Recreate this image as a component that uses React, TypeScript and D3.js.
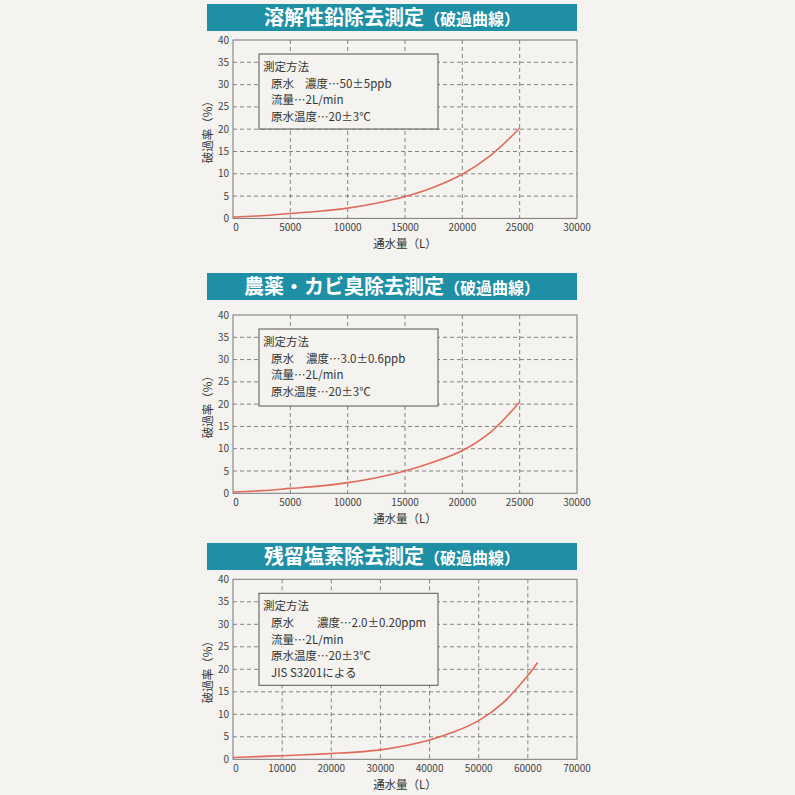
import React from "react";
import * as d3 from "d3";

const leadX = [0, 2500, 5000, 7500, 10000, 12500, 15000, 17500, 20000, 22500, 25000];
const leadY = [0.3, 0.6, 1.1, 1.6, 2.3, 3.4, 4.9, 7.0, 9.9, 14.2, 20.2];
const pestX = [0, 2500, 5000, 7500, 10000, 12500, 15000, 17500, 20000, 22500, 25000];
const pestY = [0.3, 0.6, 1.1, 1.6, 2.4, 3.5, 5.0, 7.0, 9.6, 13.8, 20.5];
const clX = [0, 5000, 10000, 15000, 20000, 25000, 30000, 35000, 40000, 45000, 50000, 55000, 60000, 62000];
const clY = [0.4, 0.6, 0.8, 1.0, 1.3, 1.6, 2.1, 3.0, 4.3, 6.1, 8.6, 12.6, 18.6, 21.5];

const yTicks = [0, 5, 10, 15, 20, 25, 30, 35, 40];
const xTicks1 = [0, 5000, 10000, 15000, 20000, 25000, 30000];
const xTicks3 = [0, 10000, 20000, 30000, 40000, 50000, 60000, 70000];

const titles = ["溶解性鉛除去測定", "農薬・カビ臭除去測定", "残留塩素除去測定"];
const subTitle = "（破過曲線）";
const legend1 = ["測定方法", "原水", "濃度…50±5ppb", "流量…2L/min", "原水温度…20±3℃"];
const legend2 = ["測定方法", "原水", "濃度…3.0±0.6ppb", "流量…2L/min", "原水温度…20±3℃"];
const legend3 = ["測定方法", "原水", "濃度…2.0±0.20ppm", "流量…2L/min", "原水温度…20±3℃", "JIS S3201による"];

const FONT = "'Noto Sans CJK JP', 'Noto Sans', sans-serif";
const TEAL = "#1f8fa6";
const BG = "#f4f3ef";
const GRID = "#666";
const CURVE = "#e06a5c";

type PanelProps = {
  title: string;
  titleTop: number;
  plotTop: number;
  plotH: number;
  xs: number[];
  ys: number[];
  xTicks: number[];
  legend: string[];
  legendH: number;
  concX: number;
};

function Panel({ title, titleTop, plotTop, plotH, xs, ys, xTicks, legend, legendH, concX }: PanelProps) {
  const left = 233;
  const right = 577;
  const bottom = plotTop + plotH;
  const x = d3.scaleLinear().domain([0, xTicks[xTicks.length - 1]]).range([left, right]);
  const y = d3.scaleLinear().domain([0, 40]).range([bottom, plotTop]);
  const pts: [number, number][] = xs.map((v, i) => [v, ys[i]]);
  const line = d3
    .line<[number, number]>()
    .x((d) => x(d[0]))
    .y((d) => y(d[1]))
    .curve(d3.curveCatmullRom.alpha(0.5));
  const lx = 259;
  const ly = plotTop + 14;
  const lw = 179;
  const lineH = 16.6;
  return (
    <g>
      <rect x={207} y={titleTop} width={370} height={27} fill={TEAL} />
      <text
        x={392}
        y={titleTop + 21}
        textAnchor="middle"
        fill="#fff"
        fontFamily={FONT}
        fontWeight="bold"
        fontSize={20}
      >
        {title}
        <tspan fontSize={16}>{subTitle}</tspan>
      </text>
      {yTicks.slice(1, -1).map((t) => (
        <line key={"gy" + t} x1={left} x2={right} y1={y(t)} y2={y(t)} stroke={GRID} strokeWidth={0.8} strokeDasharray="4,3" />
      ))}
      {xTicks.slice(1, -1).map((t) => (
        <line key={"gx" + t} x1={x(t)} x2={x(t)} y1={plotTop} y2={bottom} stroke={GRID} strokeWidth={0.8} strokeDasharray="4,3" />
      ))}
      <rect x={left} y={plotTop} width={right - left} height={plotH} fill="none" stroke="#777" strokeWidth={1} />
      <rect x={lx} y={ly} width={lw} height={legendH} fill={BG} stroke="#555" strokeWidth={1} />
      <g fontFamily={FONT} fontSize={11.5} fill="#333">
        <text x={lx + 4} y={ly + 17}>{legend[0]}</text>
        <text x={lx + 12} y={ly + 17 + lineH}>{legend[1]}</text>
        <text x={concX} y={ly + 17 + lineH}>{legend[2]}</text>
        {legend.slice(3).map((s, i) => (
          <text key={s} x={lx + 12} y={ly + 17 + lineH * (i + 2)}>{s}</text>
        ))}
      </g>
      <path d={line(pts) || ""} fill="none" stroke={CURVE} strokeWidth={1.6} />
      <g fontFamily={FONT} fontSize={10} fill="#444">
        {yTicks.map((t) => (
          <text key={"ty" + t} x={left - 4} y={y(t) + 3.5} textAnchor="end">{t}</text>
        ))}
        {xTicks.map((t) => (
          <text key={"tx" + t} x={x(t) + (t === 0 ? 3 : 0)} y={bottom + 13} textAnchor="middle">{t}</text>
        ))}
      </g>
      <text x={405} y={bottom + 30} textAnchor="middle" fontFamily={FONT} fontSize={11.5} fill="#333">通水量（L）</text>
      <text
        transform={`translate(212,${plotTop + plotH / 2}) rotate(-90)`}
        textAnchor="middle"
        fontFamily={FONT}
        fontSize={11.5}
        fill="#333"
      >
        破過率（%）
      </text>
    </g>
  );
}

export default function App() {
  return (
    <svg
      width={795}
      height={795}
      style={{ position: "absolute", left: 0, top: 0, background: BG }}
    >
      <rect x={0} y={0} width={795} height={795} fill={BG} />
      <Panel title={titles[0]} titleTop={4} plotTop={40} plotH={178.4} xs={leadX} ys={leadY} xTicks={xTicks1} legend={legend1} legendH={75} concX={305} />
      <Panel title={titles[1]} titleTop={273} plotTop={315} plotH={178.3} xs={pestX} ys={pestY} xTicks={xTicks1} legend={legend2} legendH={77} concX={306} />
      <Panel title={titles[2]} titleTop={543} plotTop={579.3} plotH={180} xs={clX} ys={clY} xTicks={xTicks3} legend={legend3} legendH={92} concX={317} />
    </svg>
  );
}
